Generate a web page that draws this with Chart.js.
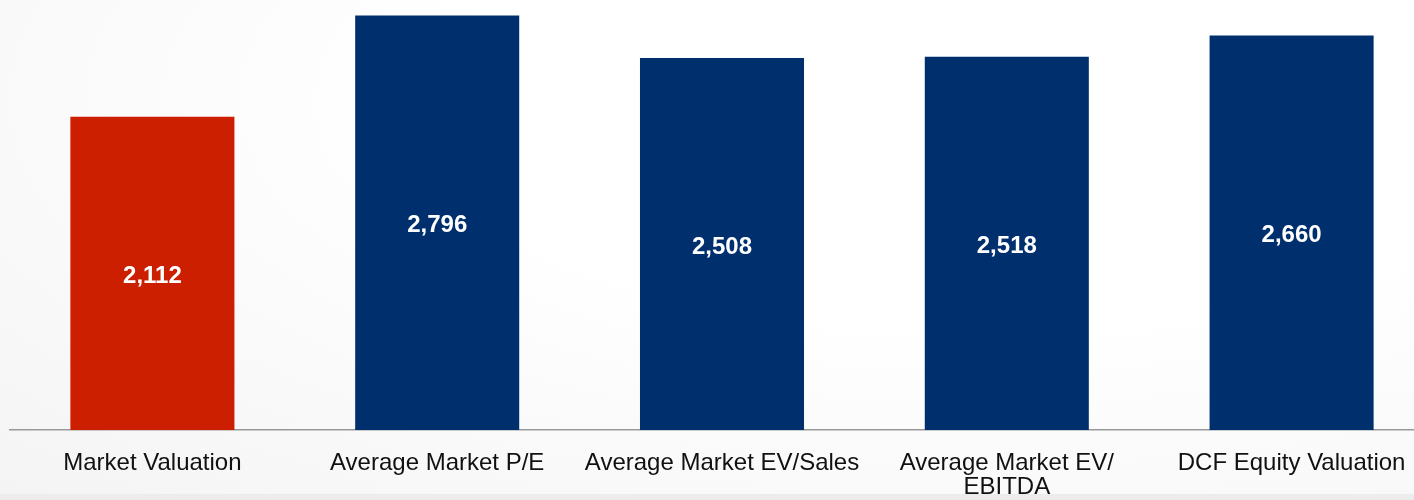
<!DOCTYPE html>
<html>
<head>
<meta charset="utf-8">
<script src="https://cdn.jsdelivr.net/npm/chart.js@4"></script>
<style>
  html, body { margin: 0; padding: 0; overflow: hidden; }
  body {
    width: 1414px; height: 500px;
    background: radial-gradient(ellipse at 70% 20%, #ffffff 40%, #f4f4f4 100%);
  }
  #wrap { position: relative; width: 1434px; height: 523px; }
  #edge { position: absolute; left: 0; top: 494px; width: 1414px; height: 6px; background: #ececec; }
</style>
</head>
<body>
<div id="wrap"><canvas id="valChart"></canvas></div>
<div id="edge"></div>
<script>
const categories = ['Market Valuation', 'Average Market P/E', 'Average Market EV/Sales', ['Average Market EV/', 'EBITDA'], 'DCF Equity Valuation'];
const values = [2112, 2796, 2508, 2518, 2660];
const barColors = ['#cc1f00', '#002f6e', '#002f6e', '#002f6e', '#002f6e'];

// draws the value in the middle of each bar
const centerLabels = {
    id: 'centerLabels',
    afterDatasetsDraw(chart) {
        const c = chart.ctx;
        const meta = chart.getDatasetMeta(0);
        c.save();
        c.font = 'bold 24px "Liberation Sans", Arial, sans-serif';
        c.fillStyle = '#ffffff';
        c.textAlign = 'center';
        c.textBaseline = 'middle';
        meta.data.forEach((bar, i) => {
            const mid = (bar.y + bar.base) / 2;
            c.fillText(values[i].toLocaleString('en-US'), bar.x, mid + 3);
        });
        c.restore();
    }
};

const ctx = document.getElementById('valChart').getContext('2d');
new Chart(ctx, {
    type: 'bar',
    data: {
        labels: categories,
        datasets: [{
            data: values,
            backgroundColor: barColors,
            categoryPercentage: 1,
            barPercentage: 0.576
        }]
    },
    options: {
        responsive: true,
        maintainAspectRatio: false,
        animation: false,
        layout: { padding: { left: 10, right: 0, top: 0, bottom: 3 } },
        scales: {
            x: {
                grid: { display: false, drawTicks: false },
                border: { display: true, color: '#999999', width: 1.5 },
                ticks: {
                    color: '#111111',
                    padding: 21,
                    maxRotation: 0,
                    autoSkip: false,
                    font: { family: '"Liberation Sans", Arial, sans-serif', size: 24, lineHeight: 1.0 }
                }
            },
            y: {
                display: false,
                min: 0,
                max: 2900
            }
        },
        plugins: {
            legend: { display: false },
            tooltip: { enabled: false }
        }
    },
    plugins: [centerLabels]
});
</script>
</body>
</html>
